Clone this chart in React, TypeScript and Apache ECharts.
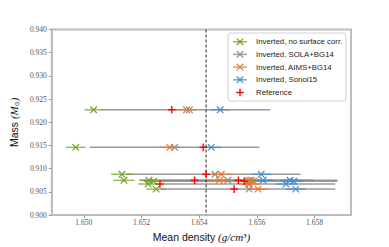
import React, { useEffect, useRef } from "react";
import * as echarts from "echarts";

// Stellar masses (Msun), one per star
const starMass = [0.9227, 0.9146, 0.9088, 0.9075, 0.9075, 0.9073, 0.9067, 0.9056];
// Inverted, no surface corr.
const densNoCorr = [1.65034, 1.64972, 1.65132, 1.65139, 1.65226, 1.65242, 1.65223, 1.65251];
const errNoCorr = [0.00031, 0.00034, 0.00037, 0.00036, 0.00034, 0.00034, 0.00034, 0.00034];
// Inverted, SOLA+BG14 (with its wide error range)
const densSola = [1.65366, 1.65315, 1.65455, 1.65499, 1.65574, 1.65568, 1.65571, 1.65573];
const solaLo = [1.65062, 1.65021, 1.65147, 1.65195, 1.65267, 1.65264, 1.65267, 1.65267];
const solaHi = [1.65646, 1.65609, 1.65752, 1.65797, 1.65879, 1.65879, 1.65872, 1.65872];
// Inverted, AIMS+BG14
const densAims = [1.65356, 1.65298, 1.65477, 1.6547, 1.65581, 1.65588, 1.65574, 1.65604];
const errAims = [0.00036, 0.00037, 0.00035, 0.00035, 0.00035, 0.00035, 0.00035, 0.00035];
// Inverted, Sonoi15
const densSonoi = [1.65473, 1.65442, 1.65615, 1.65622, 1.65715, 1.65728, 1.65701, 1.65735];
const errSonoi = [0.00034, 0.00034, 0.00034, 0.00034, 0.00034, 0.00034, 0.00034, 0.00034];
// Reference
const densRef = [1.65305, 1.65414, 1.65424, 1.65384, 1.65536, 1.65556, 1.65264, 1.65521];
const refDensity = [1.65424];

const xTicks = [1.65, 1.652, 1.654, 1.656, 1.658];
const legendNames = [
  "Inverted, no surface corr.",
  "Inverted, SOLA+BG14",
  "Inverted, AIMS+BG14",
  "Inverted, Sonoi15",
  "Reference",
];

const GREEN = "#76a02c";
const GRAY = "#8a8a8a";
const ORANGE = "#e67a2c";
const BLUE = "#4a8ccb";
const RED = "#ff0000";

function xSeries(name: string, color: string, centers: number[], lo: number[] | null, hi: number[] | null, lineColor: string, showBar: boolean) {
  const data = centers.map((c, i) => [c, starMass[i], lo ? lo[i] : c, hi ? hi[i] : c]);
  return {
    type: "custom",
    name,
    data,
    encode: { x: 0, y: 1 },
    renderItem: (_p: any, api: any) => {
      const y = api.value(1);
      const c = api.coord([api.value(0), y]);
      const l = api.coord([api.value(2), y]);
      const h = api.coord([api.value(3), y]);
      const s = 3.3;
      const children: any[] = [];
      if (showBar) {
        children.push({
          type: "line",
          shape: { x1: l[0], y1: l[1], x2: h[0], y2: h[1] },
          style: { stroke: lineColor, lineWidth: 1.5, opacity: 0.75 },
        });
      }
      children.push(
        { type: "line", shape: { x1: c[0] - s, y1: c[1] - s, x2: c[0] + s, y2: c[1] + s }, style: { stroke: color, lineWidth: 1.2 } },
        { type: "line", shape: { x1: c[0] - s, y1: c[1] + s, x2: c[0] + s, y2: c[1] - s }, style: { stroke: color, lineWidth: 1.2 } }
      );
      return { type: "group", children };
    },
  };
}

function lineOnlySeries(name: string, lo: number[], hi: number[], color: string) {
  const data = lo.map((l, i) => [l, starMass[i], hi[i]]);
  return {
    type: "custom",
    name,
    data,
    encode: { x: [0, 2], y: 1 },
    renderItem: (_p: any, api: any) => {
      const a = api.coord([api.value(0), api.value(1)]);
      const b = api.coord([api.value(2), api.value(1)]);
      return {
        type: "line",
        shape: { x1: a[0], y1: a[1], x2: b[0], y2: b[1] },
        style: { stroke: color, lineWidth: 1.5, opacity: 0.85 },
      };
    },
  };
}

function plusSeries(name: string, color: string, centers: number[]) {
  const data = centers.map((c, i) => [c, starMass[i]]);
  return {
    type: "custom",
    name,
    data,
    encode: { x: 0, y: 1 },
    renderItem: (_p: any, api: any) => {
      const c = api.coord([api.value(0), api.value(1)]);
      const s = 3.8;
      return {
        type: "group",
        children: [
          { type: "line", shape: { x1: c[0] - s, y1: c[1], x2: c[0] + s, y2: c[1] }, style: { stroke: color, lineWidth: 1.4 } },
          { type: "line", shape: { x1: c[0], y1: c[1] - s, x2: c[0], y2: c[1] + s }, style: { stroke: color, lineWidth: 1.4 } },
        ],
      };
    },
  };
}

function vLineSeries(values: number[]) {
  return {
    type: "custom",
    name: "ref density",
    data: values.map((v) => [v, 0.92]),
    encode: { x: 0, y: 1 },
    renderItem: (params: any, api: any) => {
      const cs = params.coordSys;
      const p = api.coord([api.value(0), api.value(1)]);
      return {
        type: "line",
        shape: { x1: p[0], y1: cs.y, x2: p[0], y2: cs.y + cs.height },
        style: { stroke: "#222", lineWidth: 1, lineDash: [3, 2] },
      };
    },
  };
}

function legendGraphic() {
  const colors = [GREEN, GRAY, ORANGE, BLUE, RED];
  const x0 = 228, y0 = 33, w = 118, h = 68;
  const children: any[] = [
    { type: "rect", shape: { x: x0, y: y0, width: w, height: h, r: 3 }, style: { fill: "rgba(255,255,255,0.9)", stroke: "#d0d0d0", lineWidth: 1 } },
  ];
  const mx = 240;
  legendNames.forEach((name, i) => {
    const y = y0 + 8.7 + i * 12.7;
    const col = colors[i];
    if (i < 4) {
      children.push({ type: "line", shape: { x1: mx - 7, y1: y, x2: mx + 7, y2: y }, style: { stroke: col, lineWidth: 1.5, opacity: 0.75 } });
      const s = 3.3;
      children.push({ type: "line", shape: { x1: mx - s, y1: y - s, x2: mx + s, y2: y + s }, style: { stroke: col, lineWidth: 1.2 } });
      children.push({ type: "line", shape: { x1: mx - s, y1: y + s, x2: mx + s, y2: y - s }, style: { stroke: col, lineWidth: 1.2 } });
    } else {
      const s = 3.8;
      children.push({ type: "line", shape: { x1: mx - s, y1: y, x2: mx + s, y2: y }, style: { stroke: col, lineWidth: 1.4 } });
      children.push({ type: "line", shape: { x1: mx, y1: y - s, x2: mx, y2: y + s }, style: { stroke: col, lineWidth: 1.4 } });
    }
    children.push({
      type: "text",
      x: 256,
      y,
      style: { text: name, fontFamily: "Liberation Sans", fontSize: 7.8, fill: "#222", verticalAlign: "middle", align: "left" },
    });
  });
  return [{ type: "group", children, z: 100 }];
}

export default function App() {
  const ref = useRef<HTMLDivElement>(null);
  useEffect(() => {
    const chart = echarts.init(ref.current!, null, { renderer: "svg" });
    const axisColor = "#bdbdbd";
    const option: any = {
      animation: false,
      backgroundColor: "#ffffff",
      grid: { left: 47.5, right: 38, top: 29.5, bottom: 30, show: true, borderColor: axisColor, borderWidth: 2 },
      xAxis: {
        type: "value",
        min: 1.64889,
        max: 1.659264,
        name: "{a|Mean density }{b|(g/cm³)}",
        nameLocation: "middle",
        nameGap: 13,
        nameTextStyle: {
          rich: {
            a: { fontFamily: "Liberation Sans", fontSize: 10.5, color: "#111" },
            b: { fontFamily: "Liberation Serif", fontStyle: "italic", fontSize: 11, color: "#111" },
          },
        },
        axisLine: { show: true, lineStyle: { color: axisColor, width: 2 } },
        axisTick: { show: true, length: 3, customValues: xTicks, lineStyle: { color: "#999", width: 1 } },
        axisLabel: {
          customValues: xTicks,
          formatter: (v: number) => v.toFixed(3),
          fontFamily: "Liberation Serif",
          fontSize: 7.5,
          color: "#555",
          margin: 3,
        },
        splitLine: { show: false },
      },
      yAxis: {
        type: "value",
        min: 0.9,
        max: 0.94,
        interval: 0.005,
        name: "{a|Mass }{b|(M}{c|⊙}{b|)}",
        nameLocation: "middle",
        nameRotate: 90,
        nameGap: 27,
        nameTextStyle: {
          rich: {
            a: { fontFamily: "Liberation Sans", fontSize: 10.5, color: "#111" },
            b: { fontFamily: "Liberation Serif", fontStyle: "italic", fontSize: 11, color: "#111" },
            c: { fontFamily: "DejaVu Sans", fontSize: 6, color: "#111", verticalAlign: "bottom" },
          },
        },
        axisLine: { show: true, lineStyle: { color: axisColor, width: 2 } },
        axisTick: { show: true, length: 3, lineStyle: { color: "#999", width: 1 } },
        axisLabel: {
          formatter: (v: number) => v.toFixed(3),
          fontFamily: "Liberation Serif",
          fontSize: 7.5,
          color: "#555",
          margin: 5,
        },
        splitLine: { show: false },
      },
      series: [
        lineOnlySeries("SOLA range", solaLo, solaHi, GRAY),
        vLineSeries(refDensity),
        xSeries(legendNames[0], GREEN, densNoCorr, densNoCorr.map((d, i) => d - errNoCorr[i]), densNoCorr.map((d, i) => d + errNoCorr[i]), GREEN, true),
        xSeries(legendNames[1], GRAY, densSola, null, null, GRAY, false),
        xSeries(legendNames[2], ORANGE, densAims, densAims.map((d, i) => d - errAims[i]), densAims.map((d, i) => d + errAims[i]), ORANGE, true),
        xSeries(legendNames[3], BLUE, densSonoi, densSonoi.map((d, i) => d - errSonoi[i]), densSonoi.map((d, i) => d + errSonoi[i]), BLUE, true),
        plusSeries(legendNames[4], RED, densRef),
      ],
      graphic: legendGraphic(),
    };
    chart.setOption(option);
    return () => chart.dispose();
  }, []);
  return <div ref={ref} style={{ width: 389, height: 247, position: "absolute", left: 0, top: 0 }} />;
}
